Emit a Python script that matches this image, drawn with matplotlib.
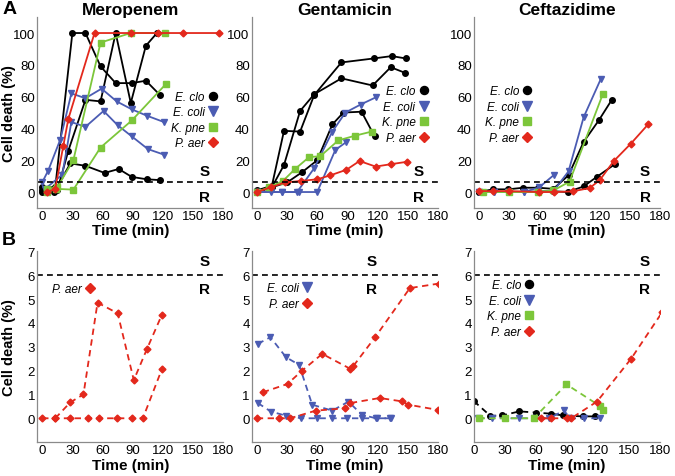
"""Cell death over time for three antibiotics, susceptible (A) and resistant (B) isolates."""

import matplotlib

matplotlib.use("Agg")
import matplotlib.pyplot as plt
from matplotlib.lines import Line2D

plt.rcParams["font.family"] = ["Liberation Sans", "DejaVu Sans"]

DRUGS = ["Meropenem", "Gentamicin", "Ceftazidime"]
SPECIES = ["E. clo", "E. coli", "K. pne", "P. aer"]
TIME_TICKS = [0, 30, 60, 90, 120, 150, 180]
TOP_Y_TICKS = [0, 20, 40, 60, 80, 100]
BOTTOM_Y_TICKS = [0, 1, 2, 3, 4, 5, 6, 7]
THRESHOLD = 6

# Panel A, Meropenem: (time, cell death) per replicate
MERO_E_CLO = [
    ([0, 13, 30, 43, 58, 73, 89, 103, 117], [3, 3, 100, 100, 79, 68.5, 68.5, 70, 61]),
    ([0, 15, 26, 43, 58, 73, 88, 103, 114], [0, 1, 26, 58, 57, 100, 56, 92, 100]),
    ([0, 12, 28, 43, 62, 76, 89, 104, 117], [1, 0, 18, 16.5, 12, 14.5, 9.5, 8, 7.5]),
]
MERO_E_COLI = [
    ([0, 6, 18, 29, 43, 59, 74, 89, 104, 121], [6, 13.5, 33, 62, 59, 65, 57, 52, 48, 44]),
    ([3, 20, 29, 43, 61, 75, 89, 105, 121], [2, 11, 44, 41, 51, 42, 35, 27, 23.5]),
]
MERO_K_PNE = [
    ([5, 15, 31, 58, 88, 122], [2, 3, 20, 94, 100, 100]),
    ([5, 14, 31, 58, 89, 123], [0, 2, 1.5, 28, 45, 68]),
]
MERO_P_AER = [
    ([5, 13, 21, 26, 52, 88, 115, 140, 176], [0, 2, 29, 46, 100, 100, 100, 100, 100]),
]

# Panel A, Gentamicin
GENT_E_CLO = [
    ([0, 15, 27, 43, 57, 84, 116, 134, 148], [1, 4, 38.5, 38, 61, 81.5, 84, 85.5, 84]),
    ([0, 15, 27, 43, 57, 84, 115, 133, 147], [0, 3, 17, 51, 61.5, 71.5, 67, 78.5, 75]),
    ([0, 30, 45, 60, 75, 86, 104, 117], [0, 6, 12.5, 20, 42.5, 50, 50.5, 35]),
]
GENT_E_COLI = [
    ([0, 14, 25, 40, 57, 75, 88, 103, 118], [0, 0, 0, 0, 15, 38, 50, 55, 59.5]),
    ([0, 25, 42, 60, 78, 89], [0, 0, 0, 0, 26.5, 31.5]),
]
GENT_K_PNE = [
    ([0, 12, 26, 38, 52, 63, 81, 98, 114], [0, 3, 7, 14.5, 22, 22.5, 32.5, 35.5, 38]),
]
GENT_P_AER = [
    ([0, 14, 28, 44, 60, 73, 89, 102, 118, 133, 149],
     [0, 3, 6, 7, 8, 10.5, 14, 19.5, 16, 17.5, 19]),
]

# Panel A, Ceftazidime
CEFT_E_CLO = [
    ([0, 14, 29, 44, 59, 74, 89, 104, 119, 132], [0, 1.7, 1.7, 2.7, 2.7, 2, 10.5, 31.5, 45, 58]),
    ([0, 30, 74, 88, 104, 117, 135], [0, 0, 0.5, 0, 3.5, 9.5, 17.5]),
]
CEFT_E_COLI = [
    ([0, 15, 29, 45, 60, 75], [0, 0, 0, 0, 3, 11]),
    ([0, 15, 29, 45, 59, 74, 89, 104, 121], [0, 0, 0, 0, 0, 0.5, 13, 47, 71]),
]
CEFT_K_PNE = [
    ([4, 30, 59, 74, 90, 123], [0, 0, 0, 1, 6.5, 61.5]),
]
CEFT_P_AER = [
    ([0, 14, 30, 60, 75, 93, 110, 120, 134, 151, 168],
     [0.6, 0.6, 0.6, 0, 0, 0.4, 2.5, 7.5, 19.5, 30.5, 42.5]),
]

# Panel B, resistant isolates
R_MERO_P_AER = [
    ([13, 28, 41, 55, 75, 91, 104, 119], [0, 0.67, 1.0, 4.85, 4.4, 1.6, 2.9, 4.35]),
    ([0, 13, 28, 46, 56, 74, 89, 100, 119], [0, 0, 0, 0, 0, 0, 0, 0, 2.07]),
]
R_GENT_E_COLI = [
    ([1, 13.5, 29, 42, 55, 75, 91, 104.5, 118.5, 133], [3.12, 3.4, 2.56, 2.24, 0.57, 0.32, 0.7, 0.14, 0, 0]),
    ([1, 14, 29, 44, 60, 75, 90, 104.5, 119, 132], [0.64, 0.28, 0.11, 0, 0, 0, 0, 0, 0, 0]),
]
R_GENT_P_AER = [
    ([6, 30.5, 45, 65, 93, 96, 117.5, 152, 181], [1.09, 1.44, 2.0, 2.7, 2.07, 2.2, 3.4, 5.46, 5.65]),
    ([0, 22, 33, 58.5, 88, 93, 122, 144, 150.5, 180], [0, 0, 0, 0.32, 0.42, 0.64, 0.85, 0.71, 0.57, 0.35]),
]
R_CEFT_E_CLO = [
    ([0, 16, 27.5, 44, 60, 75, 86, 105, 117], [0.72, 0.1, 0.12, 0.29, 0.24, 0.19, 0.12, 0.08, 0.08]),
]
R_CEFT_E_COLI = [
    ([4, 18, 44, 58, 73, 87, 93, 106, 122], [0, 0, 0, 0, 0, 0.33, 0, 0, 0]),
]
R_CEFT_K_PNE = [
    ([4.5, 30, 58, 89.5, 122, 124.5], [0, 0, 0, 1.42, 0.51, 0.33]),
]
R_CEFT_P_AER = [
    ([65, 75, 90, 94, 119, 152, 182], [0, 0, 0, 0, 0.7, 2.5, 4.45]),
]

STYLE = {
    "E. clo": ("black", "o", 4.0),
    "E. coli": ("#4b5cb3", "v", 5.0),
    "K. pne": ("#7cc63a", "s", 4.0),
    "P. aer": ("#e3281c", "D", 3.5),
}

TOP_DATA = [
    {"E. clo": MERO_E_CLO, "E. coli": MERO_E_COLI, "K. pne": MERO_K_PNE, "P. aer": MERO_P_AER},
    {"E. clo": GENT_E_CLO, "E. coli": GENT_E_COLI, "K. pne": GENT_K_PNE, "P. aer": GENT_P_AER},
    {"E. clo": CEFT_E_CLO, "E. coli": CEFT_E_COLI, "K. pne": CEFT_K_PNE, "P. aer": CEFT_P_AER},
]
BOTTOM_DATA = [
    {"P. aer": R_MERO_P_AER},
    {"E. coli": R_GENT_E_COLI, "P. aer": R_GENT_P_AER},
    {"E. clo": R_CEFT_E_CLO, "E. coli": R_CEFT_E_COLI, "K. pne": R_CEFT_K_PNE, "P. aer": R_CEFT_P_AER},
]

COL_LEFT = [0.055, 0.373, 0.702]
COL_WIDTH = 0.276
TOP_LEGEND = [("center right", (1.0, 0.46)), ("center right", (0.98, 0.49)), ("center left", (0.03, 0.49))]
BOTTOM_LEGEND = [("center left", (0.05, 0.80)), ("center left", (0.05, 0.765)), ("center left", (0.04, 0.70))]
TOP_SR_X = [161, 161, 165]
BOTTOM_SR_X = [161, 114, 165]


def style_axis(axis, yticks):
    for side in ("top", "right"):
        axis.spines[side].set_visible(False)
    for side in ("left", "bottom"):
        axis.spines[side].set_color("#8a8a8a")
        axis.spines[side].set_linewidth(0.9)
    axis.set_xticks(TIME_TICKS)
    axis.set_yticks(yticks)
    axis.tick_params(length=0, labelsize=9.5, pad=1.5)
    axis.set_xlabel("Time (min)", fontsize=11, fontweight="bold", labelpad=1)


def draw_panel(axis, data, dashed, legend_spec):
    handles = []
    for name in SPECIES:
        if name not in data:
            continue
        color, marker, size = STYLE[name]
        for times, values in data[name]:
            axis.plot(
                times,
                values,
                color=color,
                marker=marker,
                markersize=size,
                linewidth=1.3,
                linestyle=(0, (3.5, 2.5)) if dashed else "-",
            )
        handles.append(
            Line2D([], [], color=color, marker=marker, linestyle="none", markersize=size + 1.8, label=name)
        )
    loc, anchor = legend_spec
    axis.legend(
        handles=handles,
        loc=loc,
        bbox_to_anchor=anchor,
        frameon=False,
        markerfirst=False,
        handlelength=0.8,
        handletextpad=0.3,
        labelspacing=0.3,
        borderpad=0,
        prop={"style": "italic", "size": 8.5},
    )


figure = plt.figure(figsize=(6.75, 4.77), dpi=100)

for col in range(3):
    top = figure.add_axes([COL_LEFT[col], 0.562, COL_WIDTH, 0.40])
    draw_panel(top, TOP_DATA[col], False, TOP_LEGEND[col])
    top.axhline(THRESHOLD, color="black", linestyle=(0, (3.5, 2.5)), linewidth=1.2)
    top.text(TOP_SR_X[col], 13, "S", fontsize=11, fontweight="bold", ha="center", va="center")
    top.text(TOP_SR_X[col], -3, "R", fontsize=11, fontweight="bold", ha="center", va="center")
    top.set_xlim(-5, 180)
    top.set_ylim(-10, 110)
    style_axis(top, TOP_Y_TICKS)
    top.set_title(DRUGS[col], fontsize=12.5, fontweight="bold", pad=-3.5)

    bottom = figure.add_axes([COL_LEFT[col], 0.071, COL_WIDTH, 0.40])
    draw_panel(bottom, BOTTOM_DATA[col], True, BOTTOM_LEGEND[col])
    bottom.axhline(THRESHOLD, color="black", linestyle=(0, (3.5, 2.5)), linewidth=1.2)
    bottom.text(BOTTOM_SR_X[col], 6.6, "S", fontsize=11, fontweight="bold", ha="center", va="center")
    bottom.text(BOTTOM_SR_X[col], 5.4, "R", fontsize=11, fontweight="bold", ha="center", va="center")
    bottom.set_xlim(0 if col == 2 else -5, 180)
    bottom.set_ylim(-1, 7)
    style_axis(bottom, BOTTOM_Y_TICKS)

    if col == 0:
        for axis in (top, bottom):
            axis.set_ylabel("Cell death (%)", fontsize=10.5, fontweight="bold")
            axis.yaxis.set_label_coords(-0.112, 0.5)

figure.text(0.003, 0.98, "A", fontsize=14, fontweight="bold", va="center")
figure.text(0.003, 0.495, "B", fontsize=14, fontweight="bold", va="center")

figure.savefig("out.png", dpi=100)
